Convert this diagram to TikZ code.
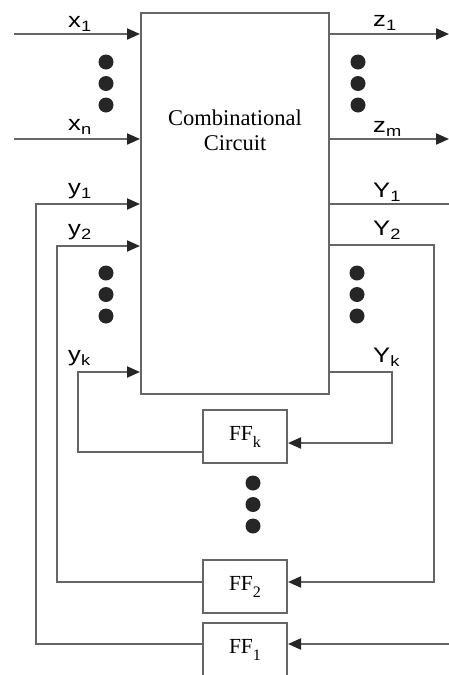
\documentclass[tikz,border=0pt]{standalone}
\usepackage{fontspec}
\setmainfont{Liberation Serif}
\newfontfamily\labelfont{Liberation Sans}[FakeStretch=1.22]
\usetikzlibrary{positioning,arrows.meta}
\tikzset{
  wire/.style={line width=2pt, draw=black!60},
  flow/.style={wire, -{Triangle[length=13pt,width=11pt,color=black!85]}}
}
\newcommand{\idx}[1]{\raisebox{-4pt}{\fontsize{15}{15}\selectfont #1}}
\newcommand{\ffidx}[1]{\raisebox{-7pt}{\fontsize{16}{16}\selectfont #1}}

\begin{document}
\begin{tikzpicture}[
  x=1pt, y=-1pt,
  comb/.style={draw=black!60, line width=2pt, minimum width=188pt, minimum height=381pt, inner sep=0pt},
  ffbox/.style={draw=black!60, line width=2pt, fill=white, minimum width=84pt, minimum height=53pt, inner sep=0pt, font=\fontsize{21.5}{21.5}\selectfont},
  sig/.style={anchor=base west, inner sep=0pt, font=\labelfont\fontsize{21}{21}\selectfont},
  bead/.style={fill=black!85}
]
\useasboundingbox (0,0) rectangle (449,675);

% main block
\node[comb] (cc) at (235,203.5) {};
\node[align=center, font=\fontsize{22.5}{25}\selectfont] (cctext) at (235,130) {Combinational\\Circuit};

% flip-flops
\node[ffbox] (ffk) at (245,436.5) {FF\ffidx{k}};
\node[ffbox] (ff2) at (245,586.5) {FF\ffidx{2}};
\node[ffbox] (ff1) at (245,649.5) {FF\ffidx{1}};

% primary inputs and outputs
\coordinate (x1in) at (14,34);
\coordinate (xnin) at (14,139);
\coordinate (z1out) at (449,34);
\coordinate (zmout) at (449,139);
\coordinate (Y1out) at (449,204);
\draw[flow] (x1in) -- (x1in -| cc.west);
\draw[flow] (xnin) -- (xnin -| cc.west);
\draw[flow] (z1out -| cc.east) -- (z1out);
\draw[flow] (zmout -| cc.east) -- (zmout);
\draw[wire] (Y1out -| cc.east) -- (Y1out);

% state feedback
\coordinate (y1c) at (36,204);
\coordinate (y2c) at (57,246);
\coordinate (ykc) at (78,372);
\coordinate (Y2c) at (434,245);
\coordinate (Ykc) at (392,372);
\coordinate (ff1in) at (449,644);
\draw[flow] ([yshift=5.5pt]ff1.west) -| (y1c) -- (y1c -| cc.west);
\draw[flow] ([yshift=4.5pt]ff2.west) -| (y2c) -- (y2c -| cc.west);
\draw[flow] ([yshift=-15.5pt]ffk.west) -| (ykc) -- (ykc -| cc.west);
\draw[flow] (Y2c -| cc.east) -- (Y2c) |- ([yshift=4.5pt]ff2.east);
\draw[flow] (Ykc -| cc.east) -- (Ykc) |- ([yshift=-6.5pt]ffk.east);
\draw[flow] (ff1in) -- ([yshift=5.5pt]ff1.east);

% signal names
\node[sig] (lx1) at (68,27) {x\idx{1}};
\node[sig] (lxn) at (68,130) {x\idx{n}};
\node[sig] (ly1) at (68,194) {y\idx{1}};
\node[sig] (ly2) at (68,235) {y\idx{2}};
\node[sig] (lyk) at (68,361) {y\idx{k}};
\node[sig] (lz1) at (373,26) {z\idx{1}};
\node[sig] (lzm) at (373,132) {z\idx{m}};
\node[sig] (lY1) at (373,197) {Y\idx{1}};
\node[sig] (lY2) at (373,235) {Y\idx{2}};
\node[sig] (lYk) at (373,362) {Y\idx{k}};

% ellipsis dots
\foreach \px/\py in {106/62, 358/62, 106/273, 357/273, 253/483}
  \foreach \k in {0,1,2}
    \fill[bead] (\px,\py+21.5*\k) circle (7.5pt);
\end{tikzpicture}
\end{document}
